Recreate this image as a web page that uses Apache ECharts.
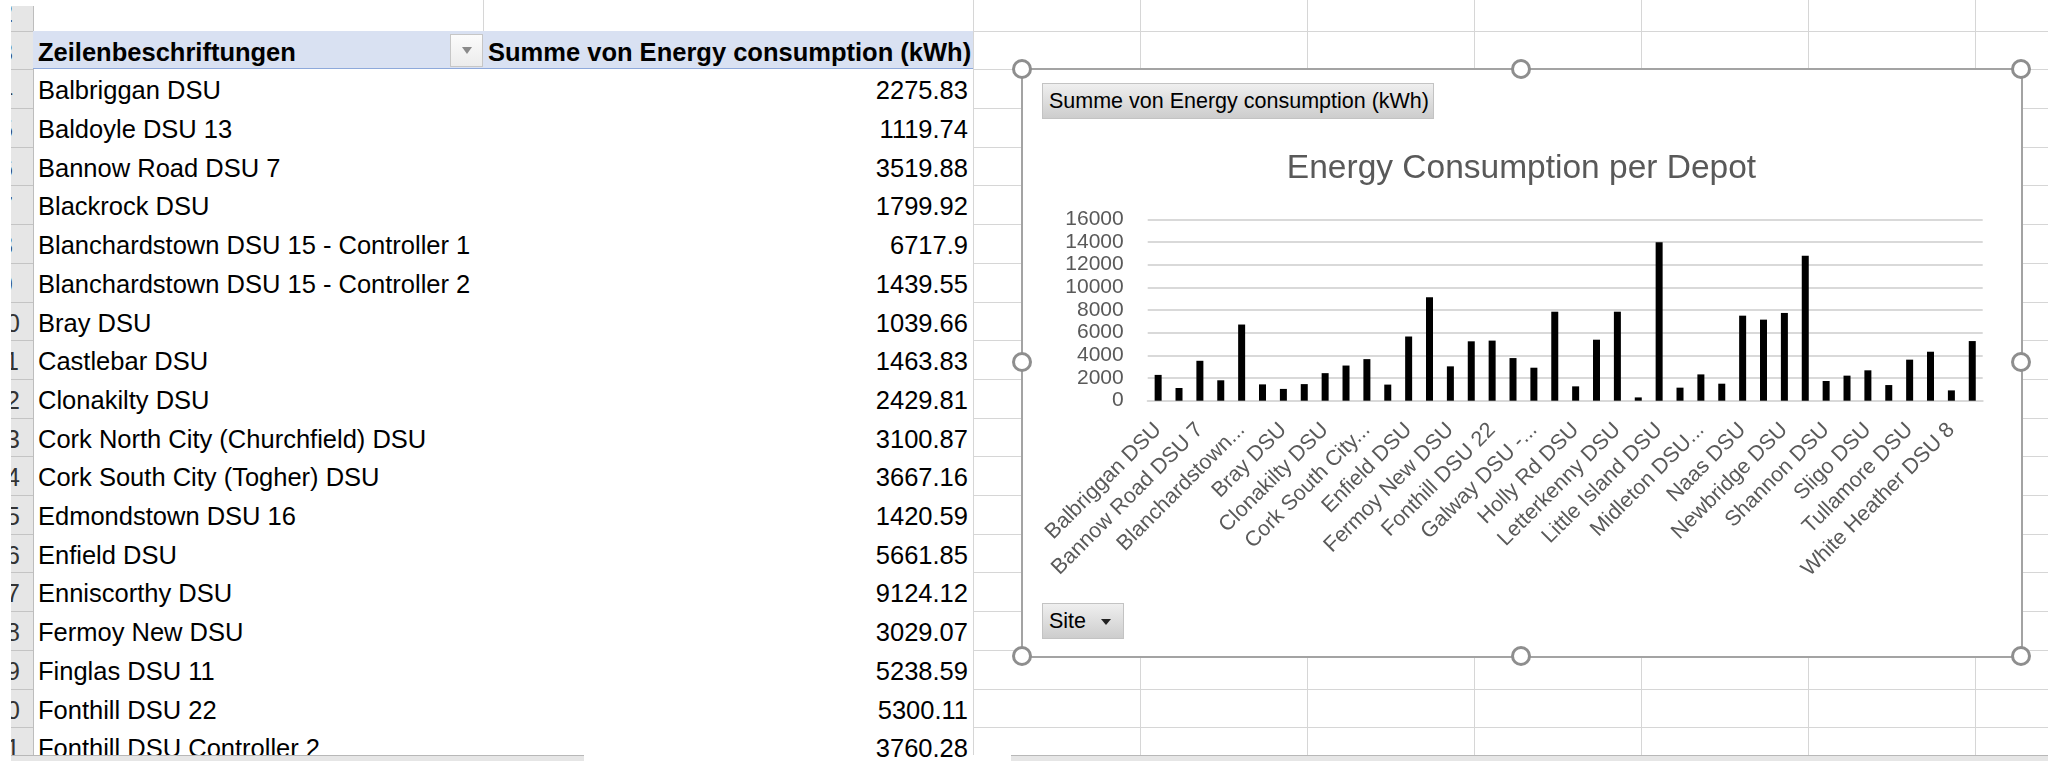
<!DOCTYPE html>
<html>
<head>
<meta charset="utf-8">
<title>Energy Consumption per Depot</title>
<script src="https://cdn.jsdelivr.net/npm/echarts@6/dist/echarts.min.js"></script>
<style>
  html, body { margin: 0; padding: 0; }
  body {
    width: 2048px; height: 761px; position: relative; overflow: hidden;
    background: #fff; font-family: 'Liberation Sans', Arial, sans-serif;
  }
  .vl { position: absolute; width: 1px; background: #d6d6d6; }
  .hl { position: absolute; height: 1px; background: #d6d6d6; }
  .strip { position: absolute; left: 11px; top: 6px; width: 22px; height: 749px;
    background: #e6e6e6; border-right: 1px solid #bdbdbd; overflow: hidden; }
  .rownum { position: absolute; left: -37px; width: 64px; text-align: center;
    font-size: 25px; color: #333; line-height: 38.7px; }
  .stripline { position: absolute; left: 0; width: 22px; height: 1px; background: #c4c4c4; }
  .cell { position: absolute; height: 38.7px; line-height: 38.7px; font-size: 25.5px;
    color: #000; white-space: nowrap; overflow: hidden; box-sizing: border-box; padding-top: 2px; }
  .name { left: 33px; width: 450px; padding-left: 5px; }
  .val { left: 483px; width: 490px; padding-right: 5px; text-align: right; }
  #head { position: absolute; left: 33px; top: 30.6px; width: 940px; height: 38.7px;
    background: #d9e1f2; border-bottom: 1px solid #8ea9db; box-sizing: border-box; }
  .bold { font-weight: bold; }
  #dd { position: absolute; left: 450px; top: 34px; width: 33px; height: 33px; box-sizing: border-box;
    background: linear-gradient(#fbfbfb, #ececec); border: 1px solid #c6c6c6; }
  #dd:after { content: ''; position: absolute; left: 11px; top: 12px;
    border-left: 5px solid transparent; border-right: 5px solid transparent; border-top: 7px solid #8a8a8a; }
  #chart { position: absolute; left: 1022px; top: 69px; width: 999px; height: 587px; background: #fff; }
  #frame { position: absolute; left: 1021px; top: 68px; width: 1002px; height: 590px;
    border: 2px solid #a3a3a3; box-sizing: border-box; pointer-events: none; }
  .handle { position: absolute; width: 20px; height: 20px; margin: -10px 0 0 -10px; box-sizing: border-box;
    border: 3px solid #8e8e8e; border-radius: 50%; background: #fff; }
  .fbtn { position: absolute; box-sizing: border-box; background: linear-gradient(#efefef, #cdcdcd);
    border: 1px solid #c3c3c3; color: #000; font-size: 21.5px; line-height: 34px; padding-left: 6px; white-space: nowrap; }
  #sitebtn:after { content: ''; position: absolute; left: 58px; top: 15px;
    border-left: 5px solid transparent; border-right: 5px solid transparent; border-top: 6px solid #222; }
  .scroll { position: absolute; top: 755px; height: 6px; background: #e6e6e6; border-top: 1px solid #b8b8b8; }
</style>
</head>
<body>
<div id="grid"></div>
<div class="strip" id="strip"></div>
<div id="head">
  <div class="cell name bold" style="left:0;top:0;">Zeilenbeschriftungen</div>
  <div class="cell bold" style="left:455px;top:0;width:500px;padding-left:0;overflow:visible;">Summe von Energy consumption (kWh)</div>
</div>
<div id="dd"></div>
<div id="rows"></div>
<div id="chart"></div>
<div id="frame"></div>
<div class="fbtn" style="left:1042px;top:83px;width:392px;height:36px;">Summe von Energy consumption (kWh)</div>
<div class="fbtn" id="sitebtn" style="left:1042px;top:603px;width:82px;height:36px;">Site</div>
<div class="scroll" style="left:11px;width:573px;"></div>
<div class="scroll" style="left:1011px;width:1037px;"></div>
<script>
// pivot data: site names (alphabetical) and energy consumption in kWh
const sites = [
  'Balbriggan DSU', 'Baldoyle DSU 13', 'Bannow Road DSU 7', 'Blackrock DSU',
  'Blanchardstown DSU 15 - Controller 1', 'Blanchardstown DSU 15 - Controller 2',
  'Bray DSU', 'Castlebar DSU', 'Clonakilty DSU', 'Cork North City (Churchfield) DSU',
  'Cork South City (Togher) DSU', 'Edmondstown DSU 16', 'Enfield DSU', 'Enniscorthy DSU',
  'Fermoy New DSU', 'Finglas DSU 11', 'Fonthill DSU 22', 'Fonthill DSU Controller 2',
  'Galway DSU - Controller 1', 'Galway DSU - Controller 2', 'Holly Rd DSU', 'Kilkenny DSU',
  'Letterkenny DSU', 'Limerick DSU', 'Little Island DSU', 'Longford DSU',
  'Midleton DSU (Controller 1)', 'Mullingar DSU', 'Naas DSU', 'Navan DSU',
  'Newbridge DSU', 'Portlaoise DSU', 'Shannon DSU', 'Skibbereen DSU', 'Sligo DSU',
  'Swords DSU', 'Tullamore DSU', 'Waterford DSU', 'White Heather DSU 8', 'Wicklow DSU'
];
const consumption = [
  2275.83, 1119.74, 3519.88, 1799.92, 6717.9, 1439.55, 1039.66, 1463.83, 2429.81, 3100.87,
  3667.16, 1420.59, 5661.85, 9124.12, 3029.07, 5238.59, 5300.11, 3760.28,
  2910, 7850, 1265, 5380, 7850, 290, 13970, 1150, 2320, 1500, 7500, 7150,
  7740, 12790, 1740, 2210, 2680, 1380, 3620, 4320, 910, 5260
];
const chartTitle = 'Energy Consumption per Depot';
const yMax = 16000;
const yStep = 2000;

const ROW_H = 38.7;
const HEAD_TOP = 30.6;
const COL_W = 167;

// sheet gridlines outside the pivot table
const grid = document.getElementById('grid');
let html = '';
for (let k = 0; k < 7; k++) {
  html += '<div class="vl" style="left:' + (973 + k * COL_W) + 'px;top:0;height:755px;"></div>';
}
html += '<div class="vl" style="left:483px;top:0;height:30.6px;"></div>';
for (let k = 0; k < 19; k++) {
  html += '<div class="hl" style="left:973px;top:' + (HEAD_TOP + k * ROW_H) + 'px;width:1075px;"></div>';
}
grid.innerHTML = html;

// row header strip (only the right edge of the numbers shows)
const strip = document.getElementById('strip');
html = '';
for (let k = -1; k < 19; k++) {
  const top = HEAD_TOP + k * ROW_H - 6;
  html += '<div class="rownum" style="top:' + (top + 2) + 'px;">' + (k + 3) + '</div>';
  html += '<div class="stripline" style="top:' + (top + ROW_H) + 'px;"></div>';
}
strip.innerHTML = html;

// pivot table rows
const rows = document.getElementById('rows');
html = '';
sites.forEach(function (s, i) {
  const top = HEAD_TOP + (i + 1) * ROW_H;
  if (top > 761) return;
  html += '<div class="cell name" style="top:' + top + 'px;">' + s + '</div>';
  html += '<div class="cell val" style="top:' + top + 'px;">' + consumption[i] + '</div>';
});
rows.innerHTML = html;

// selection handles around chart
[[1022, 69], [1521, 69], [2021, 69], [1022, 362], [2021, 362], [1022, 656], [1521, 656], [2021, 656]]
  .forEach(function (p) {
    const h = document.createElement('div');
    h.className = 'handle';
    h.style.left = p[0] + 'px';
    h.style.top = p[1] + 'px';
    document.body.appendChild(h);
  });

// excel style label shortening for long names
function shortLabel(name) {
  if (name.length <= 19) return name;
  const words = name.split(' ');
  let out = words[0];
  for (let i = 1; i < words.length; i++) {
    const next = out + ' ' + words[i];
    if (next.length + 3 > 18) break;
    out = next;
  }
  return out + '...';
}

const FONT = "'Liberation Sans', Arial, sans-serif";
const myChart = echarts.init(document.getElementById('chart'));
myChart.setOption({
  animation: false,
  backgroundColor: '#fff',
  textStyle: { fontFamily: FONT },
  title: {
    text: chartTitle,
    left: 'center',
    top: 78,
    textStyle: { color: '#595959', fontSize: 33.5, fontWeight: 'normal', fontFamily: FONT }
  },
  grid: {
    left: 125.7,
    right: 38.3,
    top: 150.3,
    height: 181.4,
    containLabel: false,
    outerBoundsMode: 'none'
  },
  xAxis: {
    type: 'category',
    data: sites,
    axisTick: { show: false },
    axisLine: { lineStyle: { color: '#d9d9d9', width: 2 } },
    axisLabel: {
      interval: 1,
      rotate: 45,
      margin: 26,
      color: '#595959',
      fontSize: 21.5,
      fontFamily: FONT,
      formatter: shortLabel
    }
  },
  yAxis: {
    type: 'value',
    min: 0,
    max: yMax,
    interval: yStep,
    axisLine: { show: false },
    axisTick: { show: false },
    splitLine: { lineStyle: { color: '#d9d9d9', width: 2 } },
    axisLabel: {
      color: '#595959', fontSize: 21, margin: 24, fontFamily: FONT,
      formatter: function (v) { return String(v); }
    }
  },
  series: [{
    name: 'Summe von Energy consumption (kWh)',
    type: 'bar',
    data: consumption,
    barWidth: 7,
    itemStyle: { color: '#000' }
  }]
});
</script>
</body>
</html>
